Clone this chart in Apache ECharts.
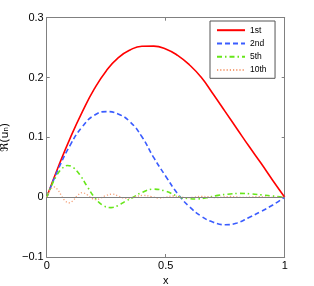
<!DOCTYPE html>
<html>
<head>
<meta charset="utf-8">
<script src="https://cdn.jsdelivr.net/npm/echarts@6/dist/echarts.min.js"></script>
<style>
html,body{margin:0;padding:0;background:#fff;}
#c{width:314px;height:286px;}
</style>
</head>
<body>
<div id="c"></div>
<script>
var xs12 = [0,0.05,0.1,0.15,0.2,0.25,0.3,0.35,0.4,0.45,0.5,0.55,0.6,0.65,0.7,0.75,0.8,0.85,0.9,0.95,1];
var first = [0,0.052,0.1,0.143,0.181,0.211,0.233,0.246,0.2522,0.2525,0.2478,0.237,0.221,0.2,0.172,0.143,0.114,0.085,0.057,0.028,0];
var second = [0,0.048,0.088,0.118,0.137,0.143,0.139,0.126,0.101,0.066,0.035,0.006,-0.016,-0.032,-0.042,-0.046,-0.043,-0.034,-0.024,-0.013,0];
var xs5 = [0,0.02,0.04,0.06,0.087,0.11,0.14,0.17,0.2,0.235,0.27,0.3,0.33,0.364,0.4,0.448,0.5,0.56,0.6,0.63,0.67,0.72,0.76,0.81,0.86,0.91,0.95,1];
var fifth = [0,0.019,0.035,0.046,0.053,0.05,0.037,0.018,0,-0.0135,-0.0175,-0.014,-0.007,0,0.008,0.0135,0.01,0,-0.0025,-0.003,-0.001,0.003,0.005,0.0063,0.0055,0.0035,0.002,0];
var xs10 = [0,0.01,0.02,0.031,0.045,0.06,0.075,0.094,0.11,0.13,0.15,0.17,0.19,0.206,0.225,0.25,0.276,0.3,0.32,0.34,0.37,0.406,0.44,0.47,0.5,0.53,0.56,0.59,0.62,0.65,0.68,0.71,0.74,0.77,0.8,0.83,0.86,0.89,0.92,0.95,1];
var tenth = [0,0.009,0.015,0.017,0.013,0.004,-0.005,-0.0095,-0.006,0.003,0.0075,0.004,-0.002,-0.0042,-0.002,0.003,0.005,0.002,-0.001,-0.002,0.0005,0.003,0.001,-0.0015,0,0.002,0.0005,-0.001,0,0.0015,0.0005,-0.0008,0.0002,0.0012,0.0003,-0.0005,0.0003,0.001,0.0003,-0.0003,0];
var seriesNames = ['1st','2nd','5th','10th'];
var xTicks = [0,0.5,1];
var yTicks = [-0.1,0,0.1,0.2,0.3];

function pairs(xs, ys){ return xs.map(function(x,i){ return [x, ys[i]]; }); }

var axisColor = '#808080';
var font = 'Liberation Sans, Arial, Helvetica, sans-serif';
function xAx(pos, showLabels, name){
  return {
    type:'value', position:pos, min:0, max:1, interval:0.5,
    name:name, nameLocation:'middle', nameGap:16,
    nameTextStyle:{color:'#000', fontSize:11, fontFamily:font},
    axisLine:{show:true, onZero:false, lineStyle:{color:axisColor, width:1}},
    axisTick:{show:true, inside:true, length:3, lineStyle:{color:axisColor}},
    axisLabel:{show:showLabels, color:'#000', fontSize:11, fontFamily:font, margin:3,
      formatter:function(v){ return String(v); }},
    splitLine:{show:false}
  };
}
function yAx(pos, showLabels, name){
  return {
    type:'value', position:pos, min:-0.1, max:0.3, interval:0.1,
    name:name, nameLocation:'middle', nameGap:30,
    nameTextStyle:{color:'#000', fontSize:11, fontFamily:'DejaVu Sans, Liberation Sans, sans-serif'},
    axisLine:{show:true, onZero:false, lineStyle:{color:axisColor, width:1}},
    axisTick:{show:true, inside:true, length:3, lineStyle:{color:axisColor}},
    axisLabel:{show:showLabels, color:'#000', fontSize:11, fontFamily:font, margin:3,
      formatter:function(v){ var r = Math.round(v*10)/10; return r < 0 ? '\u2212' + Math.abs(r) : String(r); }},
    splitLine:{show:false}
  };
}

var chart = echarts.init(document.getElementById('c'), null, {renderer:'canvas'});
chart.setOption({
  animation:false,
  backgroundColor:'#fff',
  grid:{left:46.7, right:29.3, top:17.7, bottom:29, containLabel:false, outerBoundsMode:'none'},
  xAxis:[xAx('bottom', true, 'x'), xAx('top', false, '')],
  yAxis:[yAx('left', true, '\u211C(u\u2099)'), yAx('right', false, '')],
  legend:{
    data:seriesNames, orient:'vertical', left:210, top:21,
    itemWidth:28, itemHeight:10, itemGap:4.3,
    padding:[4.7, 8.5, 3.7, 6],
    borderColor:'#555', borderWidth:1, backgroundColor:'#fff',
    itemStyle:{opacity:0, borderWidth:0},
    textStyle:{color:'#000', fontSize:8.5, fontFamily:font}
  },
  series:[
    {name:'1st', type:'line', data:pairs(xs12, first), smooth:0.5, showSymbol:false, symbol:'none',
      lineStyle:{color:'#ff0000', width:1.6}, itemStyle:{color:'#ff0000'},
      markLine:{silent:true, symbol:'none', label:{show:false}, animation:false,
        lineStyle:{color:'#808080', type:'solid', width:1}, data:[{yAxis:0}]}},
    {name:'2nd', type:'line', data:pairs(xs12, second), smooth:0.5, showSymbol:false, symbol:'none',
      lineStyle:{color:'#3a5cff', width:1.6, type:[5,3]}, itemStyle:{color:'#3a5cff'}},
    {name:'5th', type:'line', data:pairs(xs5, fifth), smooth:0.4, showSymbol:false, symbol:'none',
      lineStyle:{color:'#66e619', width:1.6, type:[5,3,1.5,3]}, itemStyle:{color:'#66e619'}},
    {name:'10th', type:'line', data:pairs(xs10, tenth), smooth:0.4, showSymbol:false, symbol:'none',
      lineStyle:{color:'#f5a27a', width:1.3, type:[1.2,2]}, itemStyle:{color:'#f5a27a'}}
  ]
});
</script>
</body>
</html>
